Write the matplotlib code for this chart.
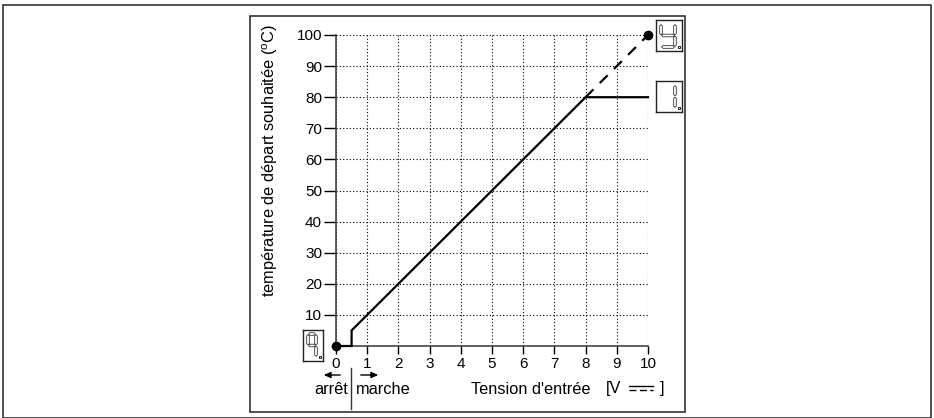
import matplotlib.pyplot as plt
from matplotlib.patches import Rectangle, Polygon, FancyArrowPatch
from matplotlib.lines import Line2D

plt.rcParams['font.family'] = ['Liberation Sans', 'DejaVu Sans']
plt.rcParams['mathtext.fontset'] = 'custom'
plt.rcParams['mathtext.rm'] = 'Liberation Sans'

# control curve: set temperature vs. input voltage
volt_on = [0, 0.5, 0.5, 8, 10]
temp_on = [0, 0, 5, 80, 80]
volt_ext = [8, 10]
temp_ext = [80, 100]
end_points_x = [0, 10]
end_points_y = [0, 100]
x_ticks = list(range(0, 11))
y_ticks = list(range(10, 101, 10))

W, H = 934, 418


def fx(px):
    return px / W


def fy(py):
    return 1 - py / H


def seg_h(x0, x1, y, t, g=0.6):
    return [(x0 + g, y), (x0 + g + t / 2, y + t / 2), (x1 - g - t / 2, y + t / 2),
            (x1 - g, y), (x1 - g - t / 2, y - t / 2), (x0 + g + t / 2, y - t / 2)]


def seg_v(x, y0, y1, t, g=0.6):
    return [(x, y0 + g), (x + t / 2, y0 + g + t / 2), (x + t / 2, y1 - g - t / 2),
            (x, y1 - g), (x - t / 2, y1 - g - t / 2), (x - t / 2, y0 + g + t / 2)]


def seven_seg(box, segs):
    # box in pixels: left, top, right, bottom
    l, t, r, b = box
    w, h = r - l, b - t
    ax = fig.add_axes([fx(l), fy(b), w / W, h / H])
    ax.set_xlim(0, w)
    ax.set_ylim(0, h)
    ax.set_xticks([])
    ax.set_yticks([])
    for s in ax.spines.values():
        s.set_linewidth(1.0)
        s.set_color('#222222')
    x0, x1 = 5, w - 7
    y0, y1 = 4, h - 4
    ym = (y0 + y1) / 2
    th = 2.6
    shapes = {
        'a': seg_h(x0, x1, y1, th), 'd': seg_h(x0, x1, y0, th), 'g': seg_h(x0, x1, ym, th),
        'f': seg_v(x0, ym, y1, th), 'b': seg_v(x1, ym, y1, th),
        'e': seg_v(x0, y0, ym, th), 'c': seg_v(x1, y0, ym, th),
    }
    for k in segs:
        ax.add_patch(Polygon(shapes[k], closed=True, fc='white', ec='#222222', lw=0.55))
    ax.add_patch(Rectangle((x1 + 2.5, y0 - 1.2), 2.4, 2.4, fc='white', ec='#222222', lw=0.7))


fig = plt.figure(figsize=(W / 100, H / 100), dpi=100)

# outer and inner frames
fig.patches.append(Rectangle((fx(3), fy(418)), fx(928), (418 - 5) / H, transform=fig.transFigure,
                             fill=False, ec='#333333', lw=1.2))
fig.patches.append(Rectangle((fx(250), fy(412)), fx(435), (412 - 16) / H, transform=fig.transFigure,
                             fill=False, ec='#333333', lw=1.2))

ax = fig.add_axes([fx(336), fy(346), fx(312), (346 - 35) / H])
ax.set_xlim(0, 10)
ax.set_ylim(0, 100)
ax.set_xticks(x_ticks)
ax.set_yticks(y_ticks)
ax.tick_params(axis='x', length=6, width=1, pad=2, labelsize=11, direction='out')
ax.tick_params(axis='y', length=9, width=1, pad=1, labelsize=11, direction='out')
for side in ['top', 'right']:
    ax.spines[side].set_visible(False)
for side in ['left', 'bottom']:
    ax.spines[side].set_linewidth(1.2)
    ax.spines[side].set_color('#444444')
ax.grid(True, color='black', linestyle=(0, (1, 2)), lw=0.8)
ax.set_axisbelow(True)

ax.plot(volt_on, temp_on, color='black', lw=1.6, solid_joinstyle='miter', clip_on=False, zorder=3)
ax.plot(volt_ext, temp_ext, color='black', lw=1.6, dashes=(5, 4), clip_on=False, zorder=3)
ax.plot(end_points_x, end_points_y, 'o', color='black', ms=6, clip_on=False, zorder=4)

fig.text(fx(270), fy(161), r'température de départ souhaitée ($^{\mathrm{o}}$C)', rotation=90,
         ha='center', va='center', fontsize=11.8)

# x label with DC symbol
fig.text(fx(531), fy(389), "Tension d'entrée", ha='center', va='center', fontsize=11.8)
fig.text(fx(606), fy(389), '[V', ha='left', va='center', fontsize=11.8)
fig.text(fx(664), fy(389), ']', ha='right', va='center', fontsize=11.8)
fig.lines.append(Line2D([fx(629), fx(653)], [fy(386), fy(386)], transform=fig.transFigure,
                        color='black', lw=1.0))
fig.lines.append(Line2D([fx(629), fx(653)], [fy(390), fy(390)], transform=fig.transFigure,
                        color='black', lw=1.0, dashes=(5, 2.5)))

# off / on region below the axis
fig.text(fx(348), fy(390), 'arrêt', ha='right', va='center', fontsize=11.8)
fig.text(fx(356), fy(390), 'marche', ha='left', va='center', fontsize=11.8)
fig.lines.append(Line2D([fx(351), fx(351)], [fy(368), fy(409)], transform=fig.transFigure,
                        color='#333333', lw=1.0))
fig.patches.append(FancyArrowPatch(
    (fx(343), fy(375)), (fx(321), fy(375)), transform=fig.transFigure,
    arrowstyle='-|>,head_length=4,head_width=1.8', color='black', lw=1.0))
fig.patches.append(FancyArrowPatch(
    (fx(358), fy(375)), (fx(381), fy(375)), transform=fig.transFigure,
    arrowstyle='-|>,head_length=4,head_width=1.8', color='black', lw=1.0))

# seven-segment display symbols
seven_seg((303, 330, 323, 361), 'abcfg')
seven_seg((656, 20, 682, 51), 'bcdfg')
seven_seg((656, 81, 682, 112), 'bc')

fig.savefig('out.png', dpi=100)
